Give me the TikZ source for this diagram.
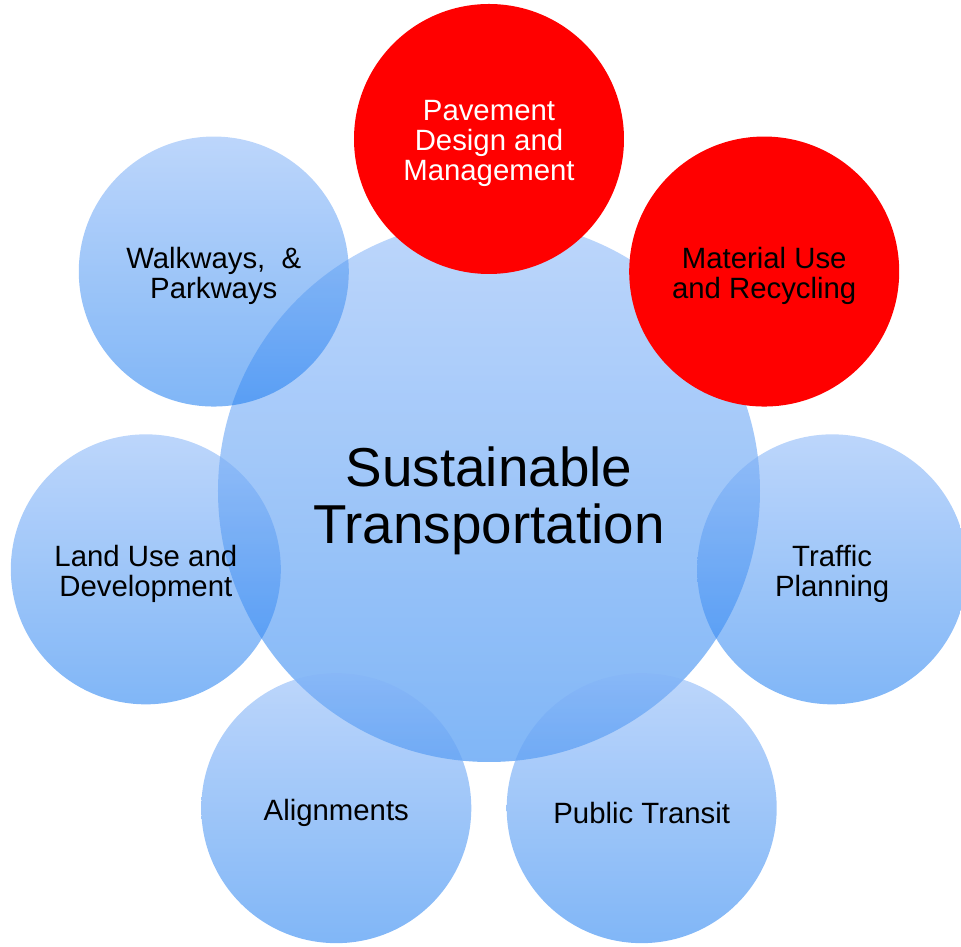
\documentclass[tikz,border=0pt]{standalone}
\usepackage{fontspec}
\setmainfont{Liberation Sans}
\usepackage{tkz-euclide}

\definecolor{skytop}{RGB}{134,180,247}
\definecolor{skybottom}{RGB}{24,122,240}

\tikzset{
	topic/.style={circle,minimum size=2.7cm,inner sep=0pt},
	bluetopic/.style={topic,top color=skytop,bottom color=skybottom,fill opacity=0.55},
	redtopic/.style={topic,fill=red},
	topictext/.style={align=center,inner sep=0pt,yshift=-0.45mm,text opacity=1,
		font=\fontsize{8.35}{8.6}\selectfont},
}

\begin{document}
\begin{tikzpicture}
		\useasboundingbox (-4.89,-4.56) rectangle (4.72,4.91);

		\tkzDefPoint(0,0){O}
		\tkzDefPoint(90:3.52){A}
		\tkzDefPoint(38.57:3.52){B}
		\tkzDefPoint(-12.86:3.52){C}
		\tkzDefPoint(-64.29:3.52){D}
		\tkzDefPoint(-115.71:3.52){E}
		\tkzDefPoint(-167.14:3.52){F}
		\tkzDefPoint(141.43:3.52){G}

		\node[bluetopic,minimum size=5.42cm,
			label={[topictext,yshift=-0.5mm,font=\fontsize{15.6}{16.2}\selectfont]center:Sustainable\\Transportation}] (main) at (O) {};

		\node[bluetopic,label={[topictext]center:Traffic\\Planning}] (traffic) at (C) {};
		\node[bluetopic,label={[topictext]center:Public Transit}] (transit) at (D) {};
		\node[bluetopic,label={[topictext]center:Alignments}] (alignments) at (E) {};
		\node[bluetopic,label={[topictext]center:Land Use and\\Development}] (landuse) at (F) {};
		\node[bluetopic,label={[topictext]center:Walkways,\ \ \&\\Parkways}] (walkways) at (G) {};

		\node[redtopic,label={[topictext,text=white]center:Pavement\\Design and\\Management}] (pavement) at (A) {};
		\node[redtopic,label={[topictext]center:Material Use\\and Recycling}] (material) at (B) {};
	\end{tikzpicture}
\end{document}
